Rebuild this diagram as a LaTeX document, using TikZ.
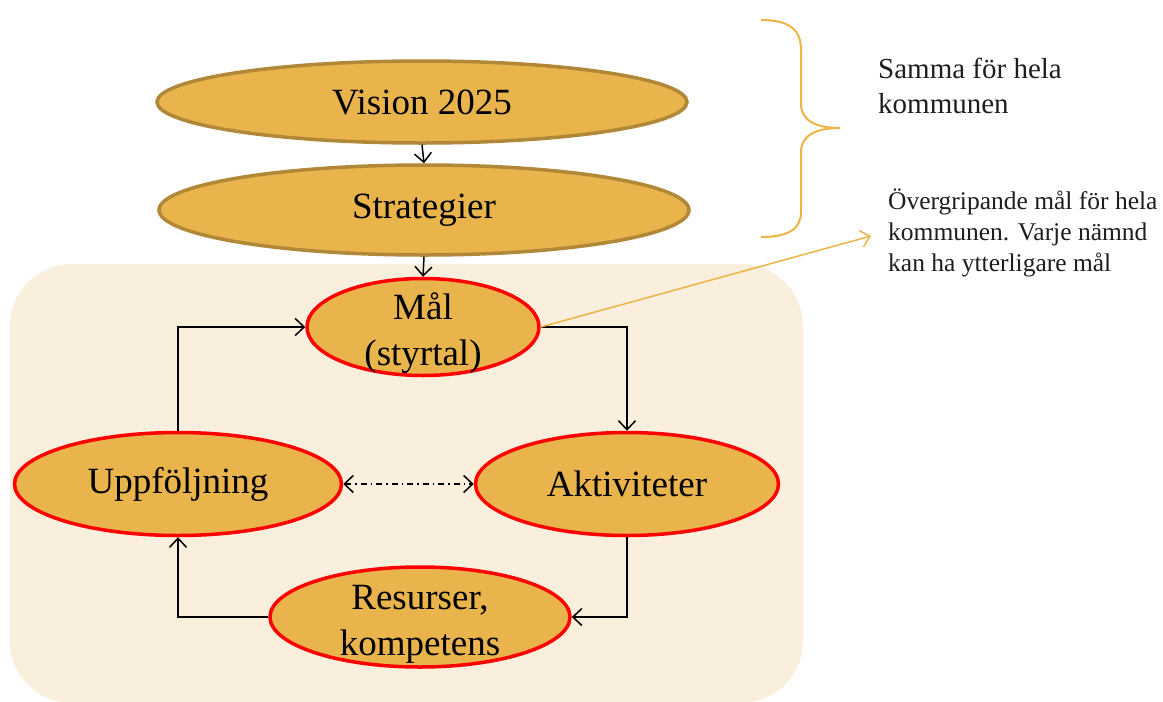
\documentclass[tikz,border=0pt]{standalone}
\usepackage{fontspec}
\setmainfont{Liberation Serif}
\usetikzlibrary{shapes.geometric,arrows.meta}
\definecolor{gold}{RGB}{232,180,75}
\definecolor{goldedge}{RGB}{176,136,56}
\definecolor{bgbeige}{RGB}{250,238,220}
\definecolor{bracecol}{RGB}{236,180,68}
\definecolor{txtgray}{RGB}{30,30,30}
\newcommand\elltext[2]{\smash{\raisebox{#1}{\begin{tabular}{@{}c@{}}#2\end{tabular}}}}
\tikzset{
  topell/.style={ellipse, draw=goldedge, fill=gold, line width=3.5pt, inner sep=0pt,
    font=\fontsize{37}{44}\selectfont, text=black},
  redell/.style={ellipse, draw=red, fill=gold, line width=3.5pt, inner sep=0pt,
    font=\fontsize{37}{46}\selectfont, text=black},
  barb/.tip={Straight Barb[length=9pt,width=17pt,line width=1.5pt]},
  conn/.style={draw=black, line width=1.5pt, -{barb}},
  sidetxt/.style={anchor=north west, inner sep=0pt, align=left, text=txtgray},
}
\begin{document}
\begin{tikzpicture}[x=1pt,y=-1pt]
\useasboundingbox (0,0) rectangle (1163,702);
% background panel
\fill[bgbeige, rounded corners=62pt] (10,264) rectangle (803,703);
% ellipses
\node[topell, minimum width=530pt, minimum height=82pt] (vis) at (422,102) {Vision 2025};
\node[topell, minimum width=530pt, minimum height=90pt] (str) at (424,210) {Strategier};
\node[redell, minimum width=232pt, minimum height=97pt] (mal) at (423,327) {\elltext{-13pt}{Mål\\(styrtal)}};
\node[redell, minimum width=327pt, minimum height=103pt] (upp) at (178,484) {Uppföljning};
\node[redell, minimum width=303pt, minimum height=103pt] (akt) at (627,484) {Aktiviteter};
\node[redell, minimum width=300pt, minimum height=100pt] (res) at (420,617) {\elltext{-13pt}{Resurser,\\kompetens}};
% connectors
\draw[conn] (vis.south) -- (str.north);
\draw[conn] (str.south) -- (mal.north);
\draw[conn] (mal.east) -| (akt.north);
\draw[conn] (akt.south) |- (res.east);
\draw[conn] (res.west) -| (upp.south);
\draw[conn] (upp.north) |- (mal.west);
\draw[line width=1.5pt, dash pattern=on 6pt off 4pt on 1.5pt off 4pt, {barb}-{barb}]
  (upp.east) -- (akt.west);
% annotation arrow
\coordinate (tip) at (871,236);
\draw[bracecol, line width=1.5pt, -{barb}] (mal.east) -- (tip);
% brace
\draw[bracecol, line width=2pt]
  (761,20) .. controls (790,20) and (801,30) .. (801,50) -- (801,104)
  .. controls (801,120) and (815,128) .. (840,128)
  .. controls (815,128) and (801,136) .. (801,152) -- (801,212)
  .. controls (801,228) and (790,237) .. (761,237);
% side texts
\node[sidetxt, font=\fontsize{29}{35}\selectfont] (samma) at (878,58) {Samma för hela\\kommunen};
\node[sidetxt, font=\fontsize{25.5}{31}\selectfont] (overg) at (888,189) {Övergripande mål för hela\\kommunen. Varje nämnd\\kan ha ytterligare mål};
\end{tikzpicture}
\end{document}
